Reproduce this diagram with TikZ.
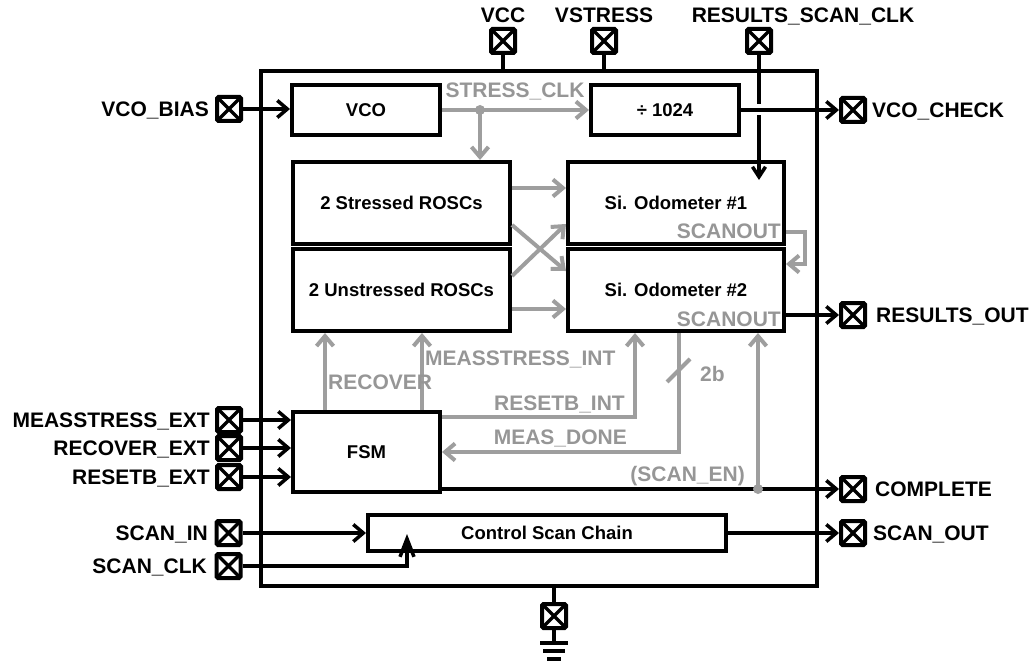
\documentclass[tikz,border=0pt]{standalone}
\usepackage{fontspec}
\setmainfont{Liberation Sans}
\usetikzlibrary{arrows.meta,calc}
\definecolor{lg}{RGB}{158,158,158}
\definecolor{lgt}{RGB}{150,150,150}
\begin{document}
\begin{tikzpicture}[x=1pt,y=-1pt,
  box/.style={draw, line width=4pt, fill=white, inner sep=0pt, font=\fontsize{18.5}{22}\selectfont\bfseries},
  padbox/.style={draw, line width=4pt, rounded corners=1.5pt, fill=white, minimum size=24pt, inner sep=0pt,
    path picture={\draw[line width=3.5pt] (path picture bounding box.south west) -- (path picture bounding box.north east)
      (path picture bounding box.north west) -- (path picture bounding box.south east);}},
  wire/.style={line width=3.5pt},
  gwire/.style={line width=4pt, draw=lg},
  arr/.style={-{Straight Barb[length=10pt,width=17pt]}},
  lab/.style={inner sep=0pt, font=\fontsize{21}{24}\selectfont\bfseries, text height=15pt, text depth=0pt},
  glab/.style={lab, text=lgt},
]
\useasboundingbox (0,0) rectangle (1036,666);

% chip outline
\node[draw, line width=4pt, minimum width=556pt, minimum height=515pt, inner sep=0pt] (chip) at (539,328.5) {};

% blocks
\node[box, minimum width=148pt, minimum height=50pt] (vco) at (366,110) {VCO};
\node[box, minimum width=148pt, minimum height=50pt] (div) at (665,110) {÷ 1024};
\node[box, minimum width=217pt, minimum height=82pt] (sros) at (401.5,203) {2 Stressed ROSCs};
\node[box, minimum width=217pt, minimum height=82pt] (uros) at (401.5,290) {2 Unstressed ROSCs};
\node[box, minimum width=216pt, minimum height=82pt] (od1) at (676,203) {Si. Odometer \#1};
\node[box, minimum width=216pt, minimum height=82pt] (od2) at (676,290) {Si. Odometer \#2};
\node[box, minimum width=147pt, minimum height=80pt] (fsm) at (366.5,452) {FSM};
\node[box, minimum width=358pt, minimum height=36pt] (csc) at (547,533) {Control Scan Chain};

% pads
\node[padbox] (pvcc) at (503,41) {};
\node[padbox] (pvs) at (604,41) {};
\node[padbox] (prs) at (759,41) {};
\node[padbox] (pvb) at (229,109) {};
\node[padbox] (pme) at (229,420) {};
\node[padbox] (pre) at (229,448) {};
\node[padbox] (prb) at (229,477) {};
\node[padbox] (psi) at (228.5,533) {};
\node[padbox] (psc) at (228.5,566) {};
\node[padbox] (pvc) at (853,110) {};
\node[padbox] (pro) at (853,315) {};
\node[padbox] (pcp) at (853,489) {};
\node[padbox] (pso) at (853,533) {};
\node[padbox] (pgnd) at (554,616) {};

% pad labels
\node[lab, anchor=base] at (503,23) {VCC};
\node[lab, anchor=base] at (604,23) {VSTRESS};
\node[lab, anchor=base] at (803,23) {RESULTS\_SCAN\_CLK};
\node[lab, anchor=east] at (209,109) {VCO\_BIAS};
\node[lab, anchor=east] at (210,420) {MEASSTRESS\_EXT};
\node[lab, anchor=east] at (210,448) {RECOVER\_EXT};
\node[lab, anchor=east] at (210,477) {RESETB\_EXT};
\node[lab, anchor=east] at (208,533) {SCAN\_IN};
\node[lab, anchor=east] at (207,566) {SCAN\_CLK};
\node[lab, anchor=west] at (872,110) {VCO\_CHECK};
\node[lab, anchor=west] at (876,315) {RESULTS\_OUT};
\node[lab, anchor=west] at (875,489) {COMPLETE};
\node[lab, anchor=west] at (873,533) {SCAN\_OUT};

% supply pads
\draw[wire] (pvcc.south) -- (pvcc.south |- chip.north);
\draw[wire] (pvs.south) -- (pvs.south |- chip.north);
\draw[wire] (pgnd.north |- chip.south) -- (pgnd.north);
\coordinate (g0) at (554,643);
\draw[wire] (pgnd.south) -- (g0);
\draw[line width=3.5pt] ($(g0)+(-14,0)$) -- ($(g0)+(14,0)$);
\draw[line width=3.5pt] ($(g0)+(-11,8)$) -- ($(g0)+(11,8)$);
\draw[line width=3.5pt] ($(g0)+(-7,16)$) -- ($(g0)+(7,16)$);

% results scan clock (with hop)
\coordinate (clk1) at (759,180);
\draw[wire, -{Straight Barb[length=10pt,width=13pt]}] (prs.south) -- (clk1);
\draw[white, line width=11pt] (752,110) -- (766,110);

% VCO path
\draw[wire, arr] (pvb.east) -- (pvb.east -| vco.west);
\draw[gwire, arr] (vco.east) -- (div.west);
\coordinate (sdot) at (480,110);
\draw[gwire, arr] (sdot) -- (sdot |- sros.north);
\fill[lg] (sdot) circle (5pt);
\draw[wire, arr] (div.east) -- (pvc.west);

% ROSC to odometers
\draw[gwire, arr] (sros.east |- 0,188) -- (od1.west |- 0,188);
\draw[gwire, arr] (uros.east |- 0,309) -- (od2.west |- 0,309);
\draw[gwire, arr] (sros.east |- 0,225) -- (od2.west |- 0,271);
\draw[gwire, arr] (uros.east |- 0,276) -- (od1.west |- 0,224);

% scanout chain
\draw[gwire, arr] (od1.east |- 0,232) -- (805,232) |- (od2.east |- 0,264);
\draw[wire, arr] (od2.east |- pro.west) -- (pro.west);
\node[glab, anchor=east] at (781,231) {SCANOUT};
\node[glab, anchor=east] at (781,319) {SCANOUT};

% FSM controls
\draw[gwire, arr] (325,0 |- fsm.north) -- (325,0 |- uros.south);
\draw[gwire, arr] (422,0 |- fsm.north) -- (422,0 |- uros.south);
\draw[gwire, arr] (fsm.east |- 0,417) -- (635,417) -- (635,0 |- od2.south);
\draw[gwire, arr] (679,0 |- od2.south) -- (679,452) -- (fsm.east |- 0,452);
\draw[gwire] (667,382) -- (690,359);
\coordinate (edot) at (758,489);
\draw[gwire, arr] (edot) -- (edot |- od2.south);
\draw[wire, arr] (fsm.east |- pcp.west) -- (pcp.west);
\fill[lg] (edot) circle (5pt);

\node[glab] at (515,90) {STRESS\_CLK};
\node[glab, anchor=west] at (425,358) {MEASSTRESS\_INT};
\node[glab, anchor=west] at (328,382) {RECOVER};
\node[glab, anchor=east] at (625,403) {RESETB\_INT};
\node[glab, anchor=east] at (627,437) {MEAS\_DONE};
\node[glab, anchor=west] at (700,374) {2b};
\node[glab, anchor=east] at (745,474) {(SCAN\_EN)};

% external FSM inputs
\draw[wire, arr] (pme.east) -- (pme.east -| fsm.west);
\draw[wire, arr] (pre.east) -- (pre.east -| fsm.west);
\draw[wire, arr] (prb.east) -- (prb.east -| fsm.west);

% scan chain
\draw[wire, arr] (psi.east) -- (psi.east -| csc.west);
\coordinate (clk2) at (407,534);
\draw[wire, -{Straight Barb[length=18pt,width=14pt]}] (psc.east) -| (clk2);
\draw[wire, arr] (csc.east) -- (pso.west);
\end{tikzpicture}
\end{document}
